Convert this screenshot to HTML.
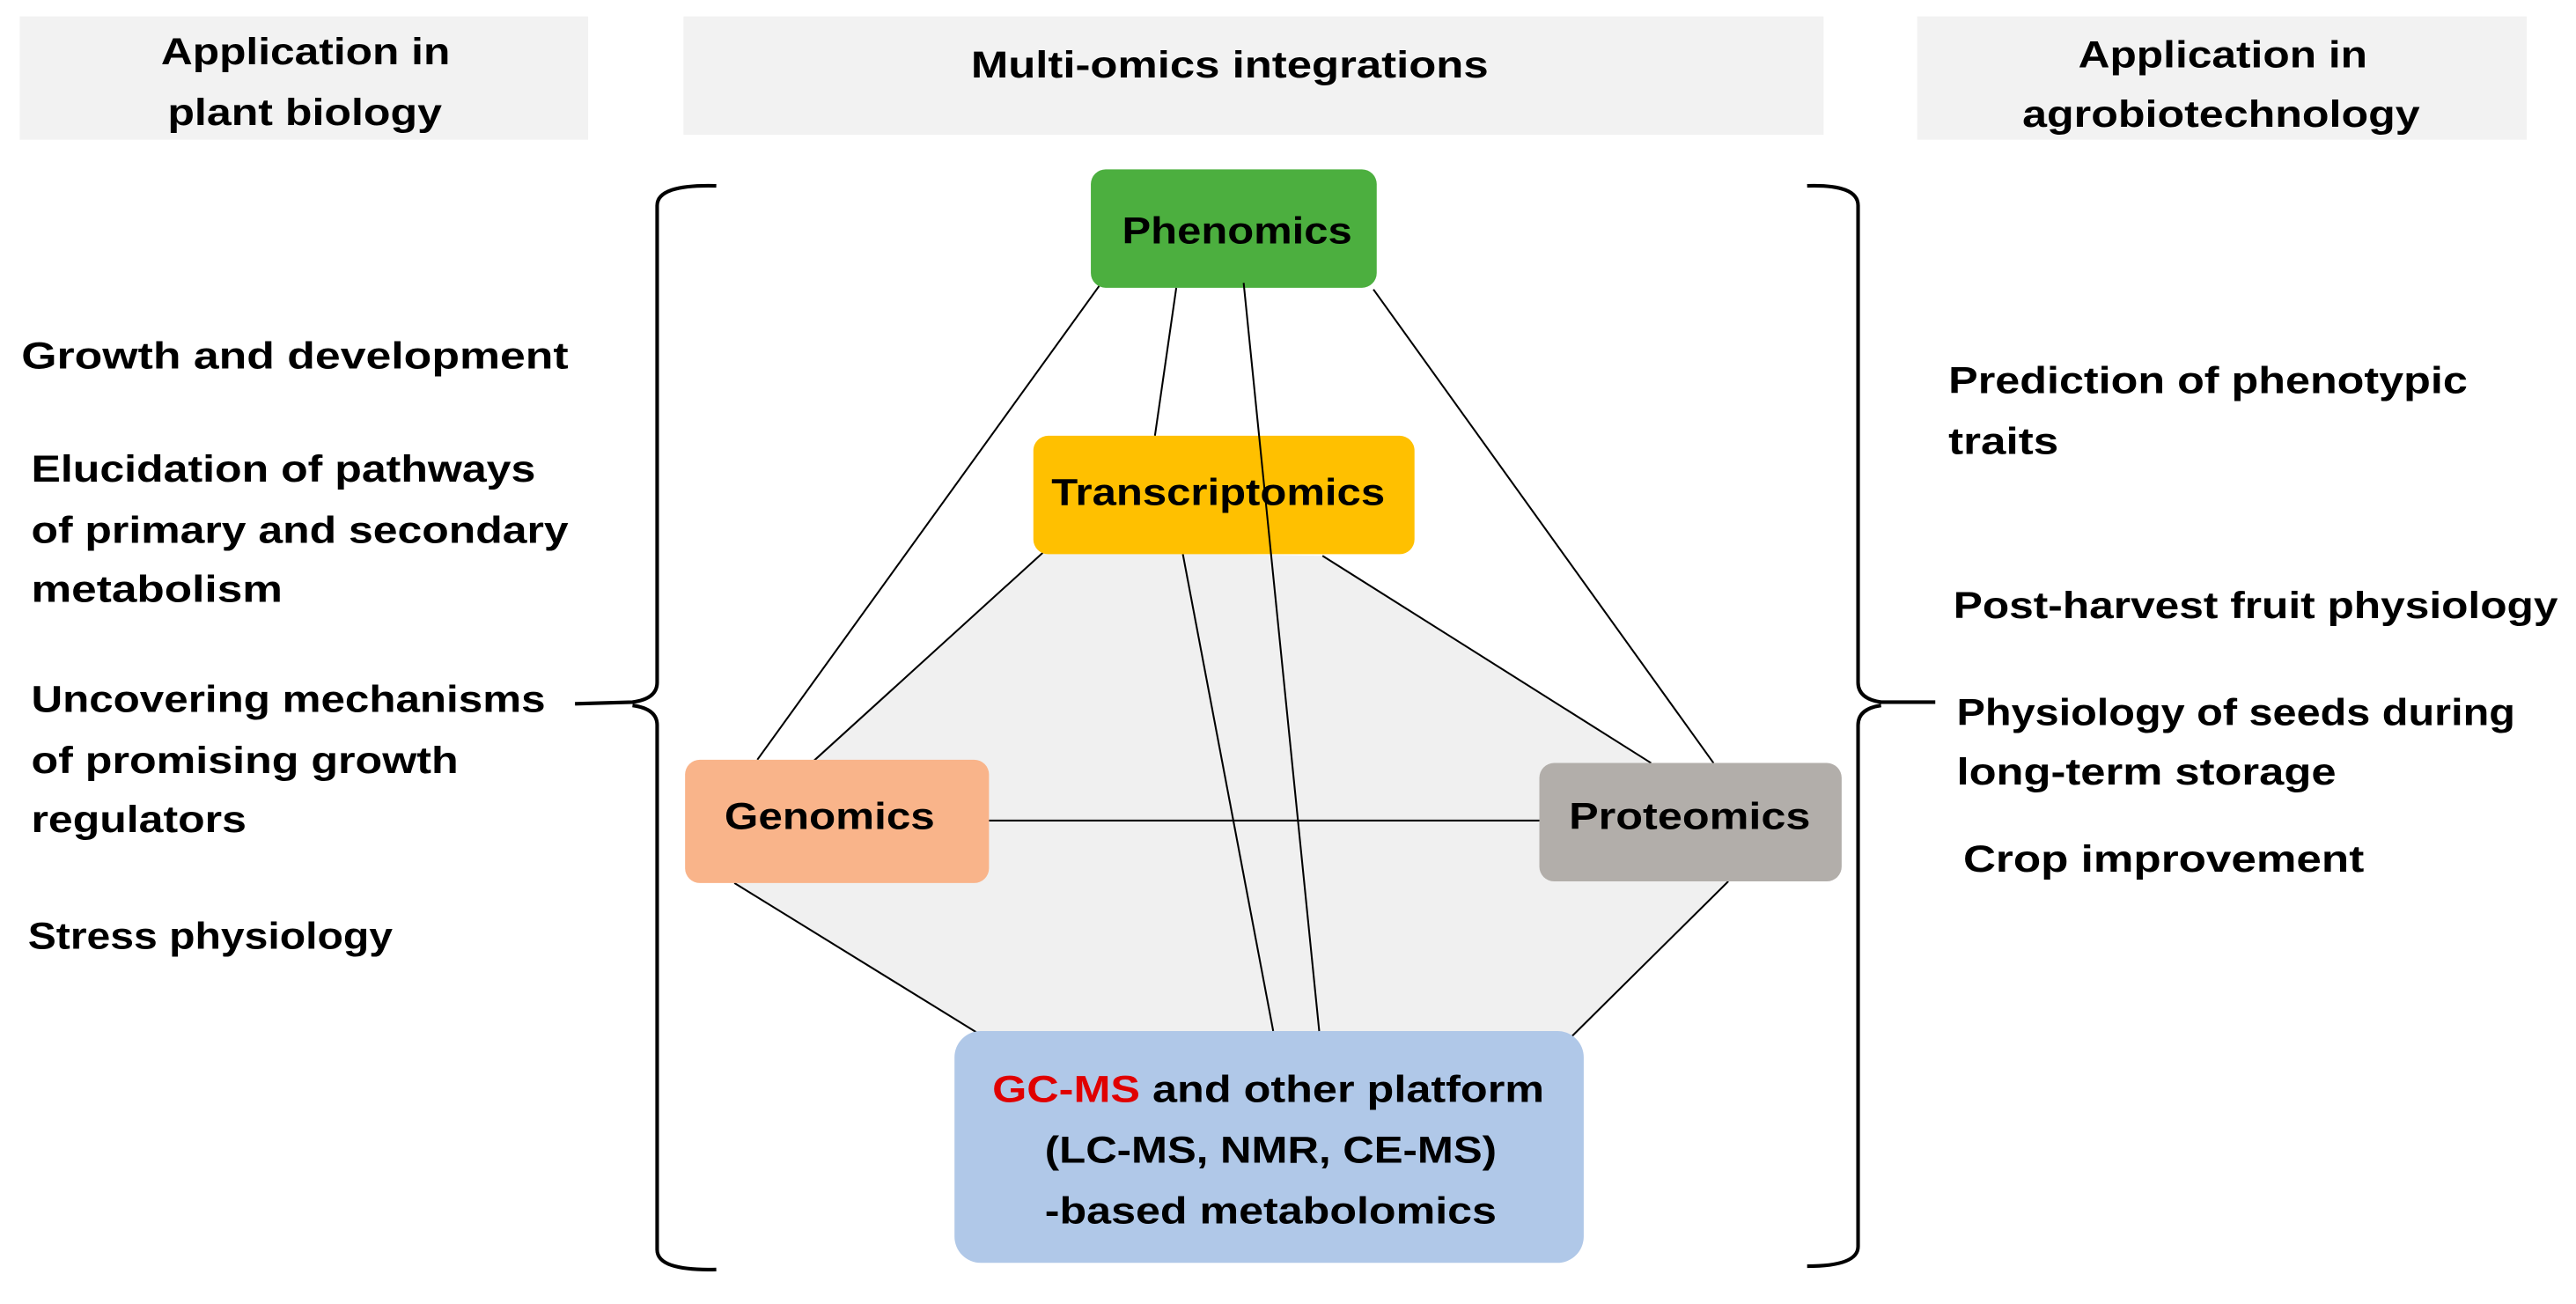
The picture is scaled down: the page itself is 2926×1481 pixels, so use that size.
<!DOCTYPE html>
<html><head><meta charset="utf-8"><style>
html,body{margin:0;padding:0;background:#fff;}
svg{display:block;}
text{font-family:"Liberation Sans",sans-serif;font-weight:bold;font-size:23px;fill:#000;}
</style></head><body>
<svg width="2926" height="1481" viewBox="0 0 1568 793" preserveAspectRatio="none" xmlns="http://www.w3.org/2000/svg">
<rect x="0" y="0" width="1568" height="793" fill="#fff"/>
<rect x="12" y="10" width="346" height="75" fill="#f2f2f2"/>
<rect x="416" y="10" width="694" height="72" fill="#f2f2f2"/>
<rect x="1167" y="10" width="371" height="75" fill="#f2f2f2"/>
<text x="98" y="39" textLength="176" lengthAdjust="spacingAndGlyphs">Application in</text>
<text x="102" y="76" textLength="167" lengthAdjust="spacingAndGlyphs">plant biology</text>
<text x="591" y="47" textLength="315" lengthAdjust="spacingAndGlyphs">Multi-omics integrations</text>
<text x="1265" y="41" textLength="176" lengthAdjust="spacingAndGlyphs">Application in</text>
<text x="1231" y="77" textLength="242" lengthAdjust="spacingAndGlyphs">agrobiotechnology</text>

<polygon points="636,335 805,338 1005,464 1052,536 957,630 598,630 447,537 495,463" fill="#f0f0f0"/>

<g stroke="#000" stroke-width="1.1" fill="none">
<line x1="669" y1="174" x2="461" y2="462"/>
<line x1="716" y1="175" x2="703" y2="265"/>
<line x1="836" y1="176" x2="1043" y2="464"/>
<line x1="636" y1="335" x2="495" y2="463"/>
<line x1="805" y1="338" x2="1005" y2="464"/>
<line x1="720" y1="337" x2="775" y2="627"/>
<line x1="602" y1="499" x2="937" y2="499"/>
<line x1="447" y1="537" x2="598" y2="630"/>
<line x1="1052" y1="536" x2="957" y2="630"/>
</g>

<rect x="664" y="103" width="174" height="72" rx="9" fill="#4caf3f"/>
<rect x="629" y="265" width="232" height="72" rx="9" fill="#ffc000"/>
<rect x="417" y="462" width="185" height="75" rx="9" fill="#f9b48a"/>
<rect x="937" y="464" width="184" height="72" rx="9" fill="#b2aeaa"/>
<rect x="581" y="627" width="383" height="141" rx="16" fill="#b0c8e8"/>

<line x1="757" y1="172" x2="803" y2="627" stroke="#000" stroke-width="1.1"/>

<text x="683" y="148" textLength="140" lengthAdjust="spacingAndGlyphs">Phenomics</text>
<text x="640" y="307" textLength="203" lengthAdjust="spacingAndGlyphs">Transcriptomics</text>
<text x="441" y="504" textLength="128" lengthAdjust="spacingAndGlyphs">Genomics</text>
<text x="955" y="504" textLength="147" lengthAdjust="spacingAndGlyphs">Proteomics</text>
<text x="604" y="670" textLength="336" lengthAdjust="spacingAndGlyphs"><tspan fill="#e00000">GC-MS</tspan> and other platform</text>
<text x="636" y="707" textLength="275" lengthAdjust="spacingAndGlyphs">(LC-MS, NMR, CE-MS)</text>
<text x="636" y="744" textLength="275" lengthAdjust="spacingAndGlyphs">-based metabolomics</text>

<g stroke="#000" stroke-width="2.2" fill="none">
<path d="M436,113 Q400,112 400,125 L400,415 Q400,425 385,427 L350,428 M385,429 Q400,431 400,441 L400,760 Q400,773 436,772"/>
<path d="M1100,113 Q1131,112 1131,125 L1131,415 Q1131,425 1145,427 L1178,427 M1145,429 Q1131,431 1131,441 L1131,758 Q1131,770 1100,770"/>
</g>

<text x="13" y="224" textLength="333" lengthAdjust="spacingAndGlyphs">Growth and development</text>
<text x="19" y="293" textLength="307" lengthAdjust="spacingAndGlyphs">Elucidation of pathways</text>
<text x="19" y="330" textLength="327" lengthAdjust="spacingAndGlyphs">of primary and secondary</text>
<text x="19" y="366" textLength="153" lengthAdjust="spacingAndGlyphs">metabolism</text>
<text x="19" y="433" textLength="313" lengthAdjust="spacingAndGlyphs">Uncovering mechanisms</text>
<text x="19" y="470" textLength="260" lengthAdjust="spacingAndGlyphs">of promising growth</text>
<text x="19" y="506" textLength="131" lengthAdjust="spacingAndGlyphs">regulators</text>
<text x="17" y="577" textLength="222" lengthAdjust="spacingAndGlyphs">Stress physiology</text>

<text x="1186" y="239" textLength="316" lengthAdjust="spacingAndGlyphs">Prediction of phenotypic</text>
<text x="1186" y="276" textLength="67" lengthAdjust="spacingAndGlyphs">traits</text>
<text x="1189" y="376" textLength="368" lengthAdjust="spacingAndGlyphs">Post-harvest fruit physiology</text>
<text x="1191" y="441" textLength="340" lengthAdjust="spacingAndGlyphs">Physiology of seeds during</text>
<text x="1191" y="477" textLength="231" lengthAdjust="spacingAndGlyphs">long-term storage</text>
<text x="1195" y="530" textLength="244" lengthAdjust="spacingAndGlyphs">Crop improvement</text>
</svg>
</body></html>
